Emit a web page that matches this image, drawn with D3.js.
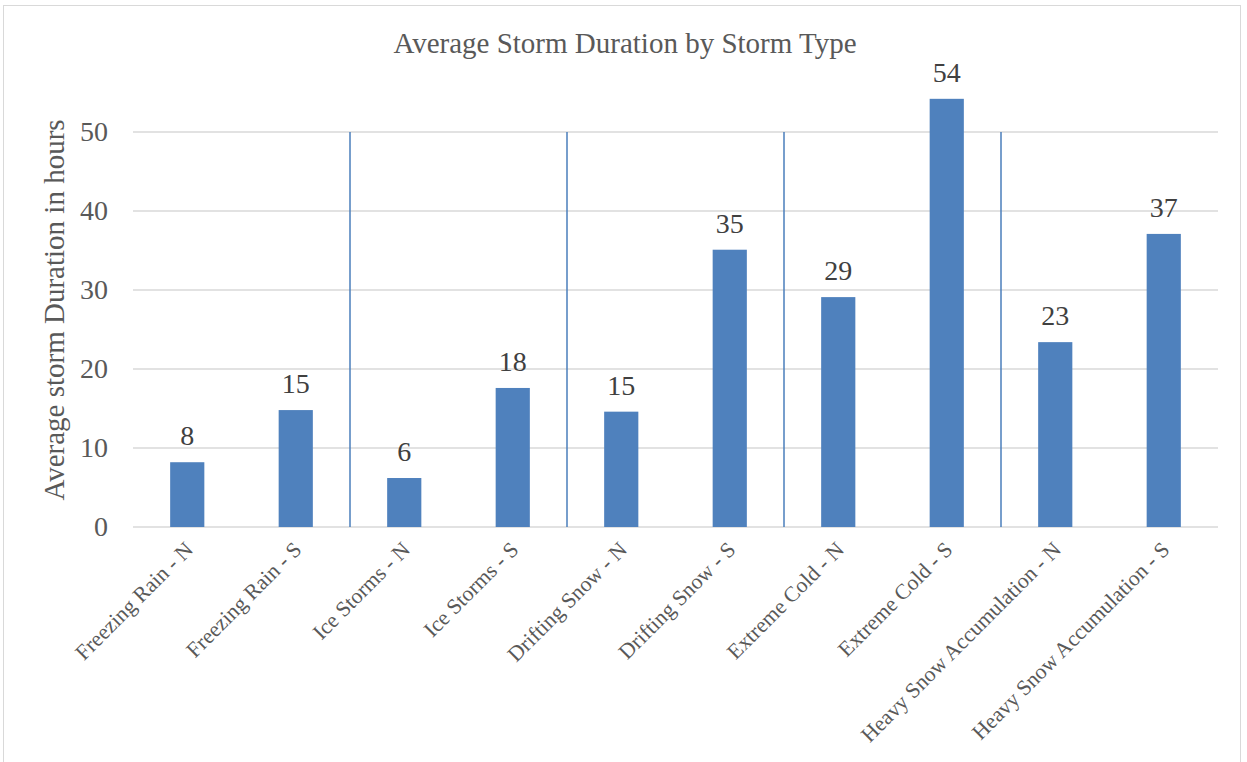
<!DOCTYPE html>
<html><head><meta charset="utf-8">
<script src="https://cdn.jsdelivr.net/npm/d3@7"></script>
<style>body{margin:0;background:#fff}svg{display:block}text{font-family:"Liberation Serif","Times New Roman",serif}</style>
</head><body><svg id="c" width="1247" height="762"></svg>
<script>
const categories = ["Freezing Rain - N","Freezing Rain - S","Ice Storms - N","Ice Storms - S","Drifting Snow - N","Drifting Snow - S","Extreme Cold - N","Extreme Cold - S","Heavy Snow Accumulation - N","Heavy Snow Accumulation - S"];
const values = [8.2, 14.8, 6.2, 17.6, 14.6, 35.1, 29.1, 54.2, 23.4, 37.1];
const labels = ["8","15","6","18","15","35","29","54","23","37"];
const yTicks = [0,10,20,30,40,50];
const separators = ["Ice Storms - N","Drifting Snow - N","Extreme Cold - N","Heavy Snow Accumulation - N"];

const svg = d3.select("#c");
svg.append("rect").attr("x",3.5).attr("y",5.5).attr("width",1237).attr("height",760).attr("fill","#fff").attr("stroke","#d9d9d9");

const x = d3.scaleBand().domain(categories).range([133,1218]).paddingInner(0.685).paddingOuter(0.3425);
const y = d3.scaleLinear().domain([0,60]).range([527,53]);

svg.append("text").attr("x",625).attr("y",53).attr("text-anchor","middle").attr("font-size",29).attr("fill","#595959").text("Average Storm Duration by Storm Type");

const g = svg.append("g");
g.selectAll("line.grid").data(yTicks).enter().append("line").attr("class","grid")
  .attr("x1",133).attr("x2",1218).attr("y1",d=>y(d)).attr("y2",d=>y(d)).attr("stroke","#d9d9d9").attr("stroke-width",1.5);

const yAxis = d3.axisLeft(y).tickValues(yTicks).tickSize(0).tickPadding(25);
const ya = svg.append("g").attr("transform","translate(133,0)").call(yAxis);
ya.select(".domain").remove();
ya.selectAll("text").attr("font-size",28).attr("fill","#595959").attr("font-family","Liberation Serif");

svg.append("text").attr("transform","translate(64,310) rotate(-90)").attr("text-anchor","middle").attr("font-size",29).attr("fill","#595959").text("Average storm Duration in hours");

const step = x.step();
g.selectAll("line.sep").data(separators).enter().append("line")
  .attr("x1",d=>x(d)-x.paddingInner()*step/2).attr("x2",d=>x(d)-x.paddingInner()*step/2)
  .attr("y1",y(50)).attr("y2",y(0)).attr("stroke","#4a7ebb").attr("stroke-width",1.5);

g.selectAll("rect.bar").data(values).enter().append("rect")
  .attr("x",(d,i)=>x(categories[i])).attr("width",x.bandwidth())
  .attr("y",d=>y(d)).attr("height",d=>y(0)-y(d)).attr("fill","#4f81bd");

g.selectAll("text.lbl").data(values).enter().append("text")
  .attr("x",(d,i)=>x(categories[i])+x.bandwidth()/2).attr("y",d=>y(d)-17)
  .attr("text-anchor","middle").attr("font-size",28).attr("fill","#404040").text((d,i)=>labels[i]);

const xAxis = d3.axisBottom(x).tickSize(0).tickPadding(0);
const xa = svg.append("g").attr("transform","translate(0,527)").call(xAxis);
xa.select(".domain").remove();
xa.selectAll("text").attr("font-size",21.7).attr("fill","#595959").attr("font-family","Liberation Serif")
  .attr("text-anchor","end").attr("dy","0").attr("y",0)
  .attr("transform","translate(7,24) rotate(-45)");
</script></body></html>
